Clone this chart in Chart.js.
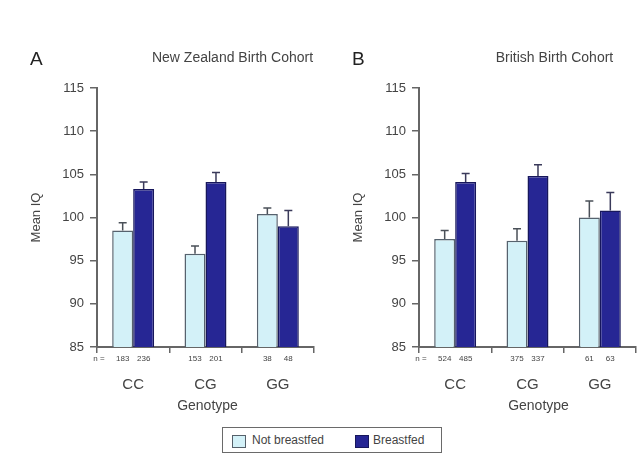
<!DOCTYPE html>
<html><head><meta charset="utf-8">
<script src="https://cdn.jsdelivr.net/npm/chart.js@4"></script>
<style>
body{margin:0;background:#fff;width:640px;height:472px;overflow:hidden;font-family:"Liberation Sans",Arial,sans-serif;position:relative;}
#wrapA{position:absolute;left:0;top:0;width:322px;height:420px;}
#wrapB{position:absolute;left:322px;top:0;width:318px;height:420px;}
#legend{position:absolute;left:222px;top:427px;width:218px;height:24px;border:1.5px solid #6a6a6a;box-sizing:content-box;}
.sw{position:absolute;top:7px;width:12px;height:11px;border:1.2px solid #55606a;}
.lt{position:absolute;top:6px;font-size:12px;color:#444;line-height:13px;}
</style>
</head><body>
<div id="wrapA"><canvas id="cA"></canvas></div>
<div id="wrapB"><canvas id="cB"></canvas></div>
<div id="legend">
  <span class="sw" id="sw0" style="left:9px;"></span><span class="lt" id="lt0" style="left:29px;"></span>
  <span class="sw" id="sw1" style="left:132px;"></span><span class="lt" id="lt1" style="left:150px;"></span>
</div>
<script>
// ---- data ----
const genotypes = ['CC', 'CG', 'GG'];
const seriesNames = ['Not breastfed', 'Breastfed'];
const yTicks = [85, 90, 95, 100, 105, 110, 115];

// Panel A: New Zealand Birth Cohort
const nzTitle = 'New Zealand Birth Cohort';
const nzNotBf = [98.5, 95.8, 100.4];
const nzNotBfSE = [0.9, 0.9, 0.7];
const nzBf = [103.3, 104.1, 99.0];
const nzBfSE = [0.8, 1.1, 1.8];
const nzNNotBf = [183, 153, 38];
const nzNBf = [236, 201, 48];

// Panel B: British Birth Cohort
const brTitle = 'British Birth Cohort';
const brNotBf = [97.5, 97.3, 100.0];
const brNotBfSE = [1.0, 1.4, 1.9];
const brBf = [104.1, 104.8, 100.8];
const brBfSE = [1.0, 1.3, 2.1];
const brNNotBf = [524, 375, 61];
const brNBf = [485, 337, 63];

// ---- styles ----
const lightFill = '#d3f1f8', lightBorder = '#56626e';
const darkFill = '#262694', darkBorder = '#17175c';
const textColor = '#444';
const axisColor = '#666';
const FF = '"Liberation Sans", Arial, sans-serif';
Chart.defaults.font.family = FF;

document.getElementById('sw0').style.background = lightFill;
document.getElementById('sw1').style.background = darkFill;
document.getElementById('sw1').style.borderColor = darkBorder;
document.getElementById('lt0').textContent = seriesNames[0];
document.getElementById('lt1').textContent = seriesNames[1];

const errPlugin = {
  id: 'errbars',
  afterDatasetsDraw(chart) {
    const ctx = chart.ctx, ys = chart.scales.y;
    chart.data.datasets.forEach((ds, i) => {
      const meta = chart.getDatasetMeta(i);
      meta.data.forEach((bar, j) => {
        const top = ys.getPixelForValue(ds.data[j] + ds.se[j]);
        ctx.save();
        ctx.strokeStyle = ds.errColor;
        ctx.lineWidth = 1.5;
        ctx.beginPath();
        ctx.moveTo(bar.x, bar.y);
        ctx.lineTo(bar.x, top);
        ctx.moveTo(bar.x - 4, top);
        ctx.lineTo(bar.x + 4, top);
        ctx.stroke();
        ctx.restore();
      });
    });
  },
  afterDraw(chart) {
    const ctx = chart.ctx, ca = chart.chartArea;
    const o = chart.options.plugins.panel;
    const cx = (ca.left + ca.right) / 2;
    ctx.save();
    ctx.fillStyle = textColor;
    ctx.textBaseline = 'middle';
    // n labels
    ctx.font = '8px ' + FF;
    ctx.textAlign = 'center';
    ctx.fillText('n =', ca.left + 2, ca.bottom + 12);
    chart.data.datasets.forEach((ds, i) => {
      const meta = chart.getDatasetMeta(i);
      meta.data.forEach((bar, j) => {
        ctx.fillText(String(ds.n[j]), bar.x, ca.bottom + 12);
      });
    });
    // x axis title
    ctx.font = '14px ' + FF;
    ctx.fillText('Genotype', cx + o.xTitleShift, 406);
    // headings
    ctx.font = '19px ' + FF;
    ctx.textAlign = 'left';
    ctx.fillStyle = '#222';
    ctx.fillText(o.letter, ca.left - 67, 60);
    ctx.font = '14px ' + FF;
    ctx.textAlign = 'center';
    ctx.fillStyle = textColor;
    ctx.fillText(o.title, cx + 27, 58);
    ctx.restore();
  }
};

function makeChart(id, letter, title, xShift, notBf, notSE, nNot, bf, bfSE, nBf) {
  return new Chart(document.getElementById(id), {
    type: 'bar',
    data: {
      labels: genotypes,
      datasets: [
        { label: seriesNames[0], data: notBf, se: notSE, n: nNot, errColor: '#4a5058',
          backgroundColor: lightFill, borderColor: lightBorder, borderWidth: 1.5 },
        { label: seriesNames[1], data: bf, se: bfSE, n: nBf, errColor: '#3a3a5a',
          backgroundColor: darkFill, borderColor: darkBorder, borderWidth: 1.5 }
      ]
    },
    options: {
      responsive: true,
      maintainAspectRatio: false,
      animation: false,
      layout: { padding: { top: 88, right: id === 'cA' ? 8 : 4, bottom: 0, left: 0 } },
      datasets: { bar: { categoryPercentage: 0.58, barPercentage: 1.0 } },
      plugins: {
        legend: { display: false },
        tooltip: { enabled: false },
        panel: { letter: letter, title: title, xTitleShift: xShift }
      },
      scales: {
        x: {
          grid: { offset: true, drawOnChartArea: false, tickLength: 6, color: axisColor, lineWidth: 1.5 },
          border: { color: axisColor, width: 2 },
          ticks: { color: textColor, font: { size: 15 }, padding: 23 },
          title: { display: false },
          afterFit: s => { s.height = 73; }
        },
        y: {
          min: yTicks[0], max: yTicks[yTicks.length - 1],
          afterBuildTicks: s => { s.ticks = yTicks.map(v => ({ value: v })); },
          grid: { drawOnChartArea: false, tickLength: 7, color: axisColor, lineWidth: 1.5 },
          border: { color: axisColor, width: 2 },
          ticks: { color: textColor, font: { size: 13 }, padding: 6 },
          title: { display: true, text: 'Mean IQ', color: textColor, font: { size: 13 }, padding: { top: 29, bottom: 0 } },
          afterFit: s => { s.width = 97; }
        }
      }
    },
    plugins: [errPlugin]
  });
}

makeChart('cA', 'A', nzTitle, 2, nzNotBf, nzNotBfSE, nzNNotBf, nzBf, nzBfSE, nzNBf);
makeChart('cB', 'B', brTitle, 11, brNotBf, brNotBfSE, brNNotBf, brBf, brBfSE, brNBf);
</script>
</body></html>
